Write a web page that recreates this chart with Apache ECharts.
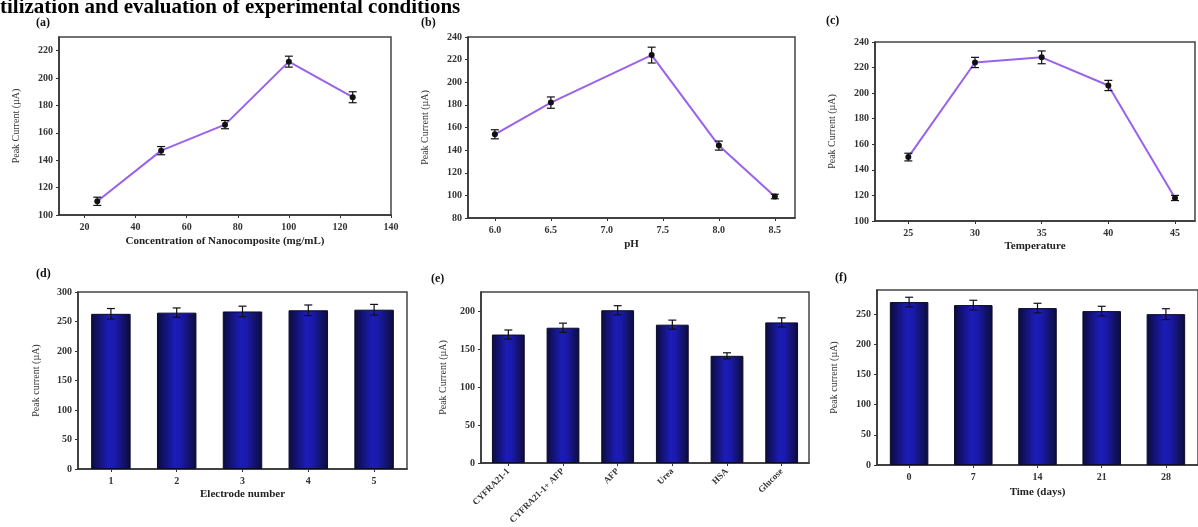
<!DOCTYPE html>
<html>
<head>
<meta charset="utf-8">
<script src="https://cdn.jsdelivr.net/npm/echarts@6/dist/echarts.min.js"></script>
<style>
  html, body { margin: 0; padding: 0; background: #fff; }
  #main { width: 1198px; height: 527px; }
</style>
</head>
<body>
<div id="main"></div>
<script>
// (a) nanocomposite concentration
const concX = [25, 50, 75, 100, 125]
const concY = [110, 147, 166, 212, 186]
const concErr = [3, 3, 3, 4, 4]
const concTicks = [20, 40, 60, 80, 100, 120, 140]
const concYTicks = [100, 120, 140, 160, 180, 200, 220]
// (b) pH
const phX = [6.0, 6.5, 7.4, 8.0, 8.5]
const phY = [154, 182, 224, 144, 99]
const phErr = [4, 5, 7, 4, 2]
const phTicks = [6.0, 6.5, 7.0, 7.5, 8.0, 8.5]
// (c) temperature
const tempX = [25, 30, 35, 40, 45]
const tempY = [150, 224, 228, 206, 118]
const tempErr = [3, 4, 5, 4, 2]
const tempTicks = [25, 30, 35, 40, 45]
// (d) reproducibility
const electrodes = ['1', '2', '3', '4', '5']
const electrodeY = [263, 265, 267, 269, 270]
const electrodeErr = [9, 8, 9, 9, 9]
// (e) selectivity
const interferents = ['CYFRA21-1', 'CYFRA21-1+ AFP', 'AFP', 'Urea', 'HSA', 'Glucose']
const interfY = [169, 178, 201, 182, 141, 185]
const interfErr = [6, 6, 6, 6, 4, 6]
const interfTicks = [0, 50, 100, 150, 200]
// (f) stability
const days = ['0', '7', '14', '21', '28']
const daysY = [270, 265, 260, 255, 250]
const daysErr = [8, 8, 8, 8, 9]
const daysTicks = [0, 50, 100, 150, 200, 250]

const serif = '"Liberation Serif", "DejaVu Serif", serif'
const lineColor = '#9a62ea'

const chart = echarts.init(document.getElementById('main'))

function errorItem(params, api) {
  const x = api.value(0)
  const y = api.value(1)
  const e = api.value(2)
  const hi = api.coord([x, y + e])
  const lo = api.coord([x, y - e])
  const w = 4
  const st = { stroke: '#111', lineWidth: 1.2 }
  return {
    type: 'group',
    children: [
      { type: 'line', shape: { x1: hi[0], y1: hi[1], x2: lo[0], y2: lo[1] }, style: st },
      { type: 'line', shape: { x1: hi[0] - w, y1: hi[1], x2: hi[0] + w, y2: hi[1] }, style: st },
      { type: 'line', shape: { x1: lo[0] - w, y1: lo[1], x2: lo[0] + w, y2: lo[1] }, style: st }
    ]
  }
}

function errData(xs, ys, es) {
  return ys.map((v, i) => [xs ? xs[i] : i, v, es[i]])
}

const barColor = new echarts.graphic.LinearGradient(0, 0, 1, 0, [
  { offset: 0, color: '#0c0c3c' },
  { offset: 0.45, color: '#1c1cb8' },
  { offset: 0.6, color: '#1a1aac' },
  { offset: 1, color: '#0c0c38' }
])

const axisLine = { show: true, lineStyle: { color: '#333', width: 1.5 } }
const tickLabel = { fontFamily: serif, fontWeight: 'bold', fontSize: 10, color: '#333' }
const nameStyleBold = { fontFamily: serif, fontWeight: 'bold', fontSize: 11, color: '#222' }
const nameStyleY = { fontFamily: serif, fontSize: 10, color: '#333' }

function grid(left, top, width, height) {
  return { left, top, width, height, show: true, borderColor: '#444', borderWidth: 1.5, backgroundColor: '#fff' }
}

function valueX(idx, min, max, ticks, name, gap) {
  return {
    type: 'value', gridIndex: idx, min, max,
    splitLine: { show: false }, axisLine,
    axisTick: { show: true, length: 3, customValues: ticks, lineStyle: { color: '#333' } },
    axisLabel: Object.assign({ customValues: ticks, margin: 7,
      formatter: v => (name === 'pH' ? v.toFixed(1) : String(v)) }, tickLabel),
    name, nameLocation: 'middle', nameGap: gap, nameTextStyle: nameStyleBold
  }
}

function valueY(idx, min, max, ticks, name, gap) {
  return {
    type: 'value', gridIndex: idx, min, max,
    splitLine: { show: false }, axisLine,
    axisTick: { show: true, length: 3, customValues: ticks, lineStyle: { color: '#333' } },
    axisLabel: Object.assign({ customValues: ticks, margin: 6 }, tickLabel),
    name, nameLocation: 'middle', nameGap: gap, nameTextStyle: nameStyleY
  }
}

function catX(idx, data, name, gap, rotate) {
  return {
    type: 'category', gridIndex: idx, data,
    axisLine,
    axisTick: { show: true, length: 3, alignWithLabel: true, lineStyle: { color: '#333' } },
    axisLabel: Object.assign({ margin: 7, rotate: rotate || 0, interval: 0 }, tickLabel, rotate ? { fontSize: 9 } : {}),
    name, nameLocation: 'middle', nameGap: gap, nameTextStyle: nameStyleBold
  }
}

function lineSeries(idx, xs, ys) {
  return {
    type: 'line', xAxisIndex: idx, yAxisIndex: idx,
    data: xs.map((x, i) => [x, ys[i]]),
    symbol: 'circle', symbolSize: 6,
    lineStyle: { color: lineColor, width: 2 },
    itemStyle: { color: '#111' },
    z: 3
  }
}

function barSeries(idx, ys) {
  return {
    type: 'bar', xAxisIndex: idx, yAxisIndex: idx, data: ys,
    barWidth: '60%',
    itemStyle: { color: barColor, borderColor: '#0a0a2a', borderWidth: 1 }
  }
}

function errSeries(idx, xs, ys, es) {
  return {
    type: 'custom', xAxisIndex: idx, yAxisIndex: idx,
    data: errData(xs, ys, es), renderItem: errorItem, z: 4
  }
}

const panelLabel = (text, left, top) => ({
  type: 'text', left, top,
  style: { text, font: 'bold 12px ' + serif, fill: '#111' }
})

chart.setOption({
  animation: false,
  graphic: [
    { type: 'text', left: 0, top: -3,
      style: { text: 'tilization and evaluation of experimental conditions', font: 'bold 21px ' + serif, fill: '#000' } },
    panelLabel('(a)', 36, 17),
    panelLabel('(b)', 421, 17),
    panelLabel('(c)', 826, 15),
    panelLabel('(d)', 36, 268),
    panelLabel('(e)', 431, 273),
    panelLabel('(f)', 835, 272)
  ],
  grid: [
    grid(59, 37, 332, 178),
    grid(468, 37, 327, 181),
    grid(875, 42, 320, 179),
    grid(78, 292, 329, 177),
    grid(481, 292, 328, 171),
    grid(877, 290, 327, 175)
  ],
  xAxis: [
    valueX(0, 10, 140, concTicks, 'Concentration of Nanocomposite (mg/mL)', 21),
    valueX(1, 5.76, 8.68, phTicks, 'pH', 21),
    valueX(2, 22.5, 46.5, tempTicks, 'Temperature', 20),
    catX(3, electrodes, 'Electrode number', 20),
    catX(4, interferents, '', 20, 45),
    catX(5, days, 'Time (days)', 22)
  ],
  yAxis: [
    valueY(0, 100, 230, concYTicks, 'Peak Current (µA)', 38),
    valueY(1, 80, 240, [80, 100, 120, 140, 160, 180, 200, 220, 240], 'Peak Current (µA)', 38),
    valueY(2, 100, 240, [100, 120, 140, 160, 180, 200, 220, 240], 'Peak Current (µA)', 38),
    valueY(3, 0, 300, [0, 50, 100, 150, 200, 250, 300], 'Peak current (µA)', 37),
    valueY(4, 0, 225, interfTicks, 'Peak Current (µA)', 33),
    valueY(5, 0, 290, daysTicks, 'Peak current (µA)', 38)
  ],
  series: [
    lineSeries(0, concX, concY),
    errSeries(0, concX, concY, concErr),
    lineSeries(1, phX, phY),
    errSeries(1, phX, phY, phErr),
    lineSeries(2, tempX, tempY),
    errSeries(2, tempX, tempY, tempErr),
    barSeries(3, electrodeY),
    errSeries(3, null, electrodeY, electrodeErr),
    barSeries(4, interfY),
    errSeries(4, null, interfY, interfErr),
    barSeries(5, daysY),
    errSeries(5, null, daysY, daysErr)
  ]
})
</script>
</body>
</html>
